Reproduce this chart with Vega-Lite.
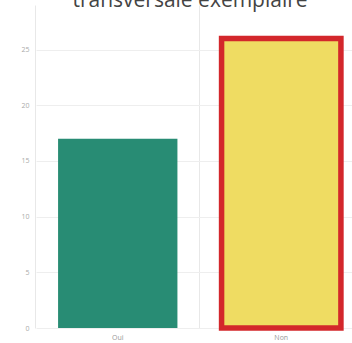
{
  "$schema": "https://vega.github.io/schema/vega-lite/v6.json",
  "autosize": {"type": "none"},
  "width": 316,
  "height": 323,
  "padding": {"left": 36, "top": 5, "right": 0, "bottom": 15},
  "background": "white",
  "title": {
    "text": "transversale exemplaire",
    "fontSize": 21,
    "font": "Open Sans",
    "fontWeight": "normal",
    "color": "#444444",
    "anchor": "middle",
    "frame": "group",
    "baseline": "alphabetic",
    "offset": 0,
    "dx": -4,
    "dy": 23
  },
  "data": {
    "values": [
      {"reponse": "Oui", "count": 17},
      {"reponse": "Non", "count": 26}
    ]
  },
  "mark": {"type": "bar", "clip": false},
  "encoding": {
    "x": {
      "field": "reponse",
      "type": "nominal",
      "sort": ["Oui", "Non"],
      "scale": {"range": [0, 327], "paddingInner": 0.27, "paddingOuter": 0.135},
      "axis": {
        "title": null,
        "labelAngle": 0,
        "labelFontSize": 7,
        "labelColor": "#999999",
        "labelFont": "Open Sans",
        "labelPadding": 5,
        "ticks": false,
        "domain": false,
        "grid": true,
        "bandPosition": -0.185,
        "gridColor": "#e8e8e8"
      }
    },
    "y": {
      "field": "count",
      "type": "quantitative",
      "scale": {"domain": [0, 29], "nice": false},
      "axis": {
        "title": null,
        "values": [0, 5, 10, 15, 20, 25],
        "labelFontSize": 7,
        "labelColor": "#aaaaaa",
        "labelFont": "Open Sans",
        "labelPadding": 7,
        "ticks": false,
        "domain": false,
        "gridColor": "#eeeeee"
      }
    },
    "color": {
      "field": "reponse",
      "type": "nominal",
      "scale": {"domain": ["Oui", "Non"], "range": ["#288c74", "#efdc62"]},
      "legend": null
    },
    "stroke": {
      "field": "reponse",
      "type": "nominal",
      "scale": {"domain": ["Oui", "Non"], "range": ["transparent", "#d3272b"]},
      "legend": null
    },
    "strokeWidth": {
      "field": "reponse",
      "type": "nominal",
      "scale": {"domain": ["Oui", "Non"], "range": [0, 5.5]},
      "legend": null
    }
  },
  "config": {"view": {"stroke": null}}
}
